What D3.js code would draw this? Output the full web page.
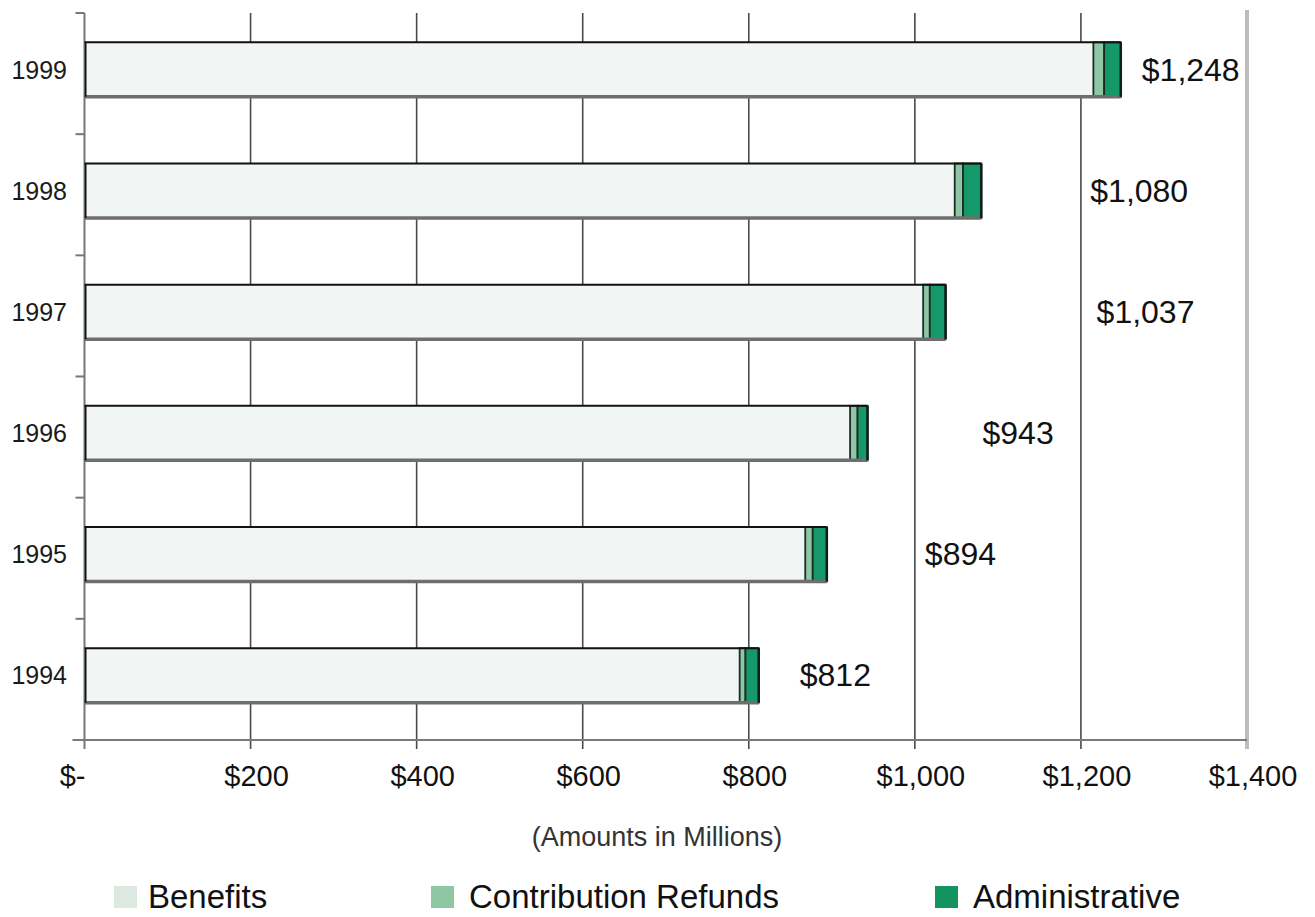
<!DOCTYPE html>
<html>
<head>
<meta charset="utf-8">
<script src="https://cdn.jsdelivr.net/npm/d3@7"></script>
<style>
  html, body { margin: 0; padding: 0; background: #fff; }
  svg { display: block; font-family: "Liberation Sans", Arial, Helvetica, sans-serif; }
</style>
</head>
<body>
<svg id="chart" width="1315" height="917"></svg>
<script>
// Expenses by fiscal year, in millions of dollars
const years = ["1999", "1998", "1997", "1996", "1995", "1994"];
const benefits = [1215, 1048, 1010, 922, 868, 789];
const contributionRefunds = [13, 10, 8, 9, 9, 7];
const administrative = [20, 22, 19, 12, 17, 16];
const totals = [1248, 1080, 1037, 943, 894, 812];

const seriesNames = ["Benefits", "Contribution Refunds", "Administrative"];
const xTickValues = [0, 200, 400, 600, 800, 1000, 1200, 1400];
const xTickLabels = ["$-", "$200", "$400", "$600", "$800", "$1,000", "$1,200", "$1,400"];
const axisTitle = "(Amounts in Millions)";

// Layout and styling
const colors = ["#f1f5f3", "#8fc6a5", "#15996a"];
const legendColors = ["#dce9e0", "#8ec7a2", "#12935f"];
const totalLabelOffsets = [21, 109, 151, 115, 98, 41];
const plot = { left: 84.5, right: 1247, top: 13, bottom: 740 };

const rows = years.map((year, i) => ({
  year,
  "Benefits": benefits[i],
  "Contribution Refunds": contributionRefunds[i],
  "Administrative": administrative[i],
  total: totals[i]
}));

const svg = d3.select("#chart");

const x = d3.scaleLinear().domain([0, 1400]).range([plot.left, plot.right]);
const y = d3.scaleBand()
  .domain(years)
  .range([plot.top, plot.bottom])
  .paddingInner(0.55)
  .paddingOuter(0.275);
const barShift = -4;

// Vertical gridlines (with a short tick below the axis)
const grid = svg.append("g");
grid.selectAll("line.grid")
  .data(xTickValues.filter(v => v > 0 && v < 1400))
  .join("line")
  .attr("x1", d => x(d)).attr("x2", d => x(d))
  .attr("y1", plot.top).attr("y2", plot.bottom + 9)
  .attr("stroke", "#4a4a4a").attr("stroke-width", 1.6);
// right-hand frame line
grid.append("line")
  .attr("x1", x(1400)).attr("x2", x(1400))
  .attr("y1", plot.top - 3).attr("y2", plot.bottom + 9)
  .attr("stroke", "#bdbdbd").attr("stroke-width", 4);

// Category axis: line plus ticks at band boundaries
const step = y.step();
const boundaries = d3.range(years.length + 1).map(i => plot.top + i * step);
grid.selectAll("line.ytick")
  .data(boundaries)
  .join("line")
  .attr("x1", plot.left - 9).attr("x2", plot.left)
  .attr("y1", d => d).attr("y2", d => d)
  .attr("stroke", "#777").attr("stroke-width", 2);
grid.append("line")
  .attr("x1", plot.left).attr("x2", plot.left)
  .attr("y1", plot.top).attr("y2", plot.bottom + 9)
  .attr("stroke", "#777").attr("stroke-width", 2);
// value axis baseline
grid.append("line")
  .attr("x1", plot.left - 12).attr("x2", x(1400))
  .attr("y1", plot.bottom).attr("y2", plot.bottom)
  .attr("stroke", "#7a7a7a").attr("stroke-width", 2.2);

// Stacked bars
const stack = d3.stack().keys(seriesNames);
const layers = stack(rows);
const barsG = svg.append("g");
layers.forEach((layer, li) => {
  barsG.append("g")
    .selectAll("rect")
    .data(layer)
    .join("rect")
    .attr("x", d => x(d[0]))
    .attr("y", d => y(d.data.year) + barShift)
    .attr("width", d => x(d[1]) - x(d[0]))
    .attr("height", y.bandwidth())
    .attr("fill", colors[li])
    .attr("stroke", li === 0 ? "none" : "#1b2e26")
    .attr("stroke-width", 1.8);
});

// Bar outlines: dark top/left/right, grey shadow along the bottom
const outlines = barsG.append("g").selectAll("g").data(rows).join("g");
outlines.append("line")
  .attr("x1", x(0)).attr("x2", d => x(d.total))
  .attr("y1", d => y(d.year) + barShift).attr("y2", d => y(d.year) + barShift)
  .attr("stroke", "#111").attr("stroke-width", 2);
outlines.append("line")
  .attr("x1", x(0)).attr("x2", d => x(d.total))
  .attr("y1", d => y(d.year) + barShift + y.bandwidth())
  .attr("y2", d => y(d.year) + barShift + y.bandwidth())
  .attr("stroke", "#6e6e6e").attr("stroke-width", 3.5);
outlines.append("line")
  .attr("x1", x(0) + 1).attr("x2", x(0) + 1)
  .attr("y1", d => y(d.year) + barShift)
  .attr("y2", d => y(d.year) + barShift + y.bandwidth())
  .attr("stroke", "#111").attr("stroke-width", 2);
outlines.append("line")
  .attr("x1", d => x(d.total)).attr("x2", d => x(d.total))
  .attr("y1", d => y(d.year) + barShift)
  .attr("y2", d => y(d.year) + barShift + y.bandwidth())
  .attr("stroke", "#0f1f18").attr("stroke-width", 2.5);

// Total labels
const fmt = d3.format("$,");
svg.append("g").selectAll("text")
  .data(rows)
  .join("text")
  .attr("x", (d, i) => x(d.total) + totalLabelOffsets[i])
  .attr("y", d => y(d.year) + barShift + y.bandwidth() / 2 + 11)
  .attr("font-size", 32)
  .attr("fill", "#111")
  .text(d => fmt(d.total));

// Year labels
svg.append("g").selectAll("text")
  .data(years)
  .join("text")
  .attr("x", 67)
  .attr("y", d => y(d) + barShift + y.bandwidth() / 2 + 9)
  .attr("text-anchor", "end")
  .attr("font-size", 25)
  .attr("fill", "#1a1a1a")
  .text(d => d);

// Value axis tick labels
svg.append("g").selectAll("text")
  .data(xTickValues)
  .join("text")
  .attr("x", d => d === 0 ? x(d) + 1 : x(d) + 6)
  .attr("y", 786)
  .attr("text-anchor", d => d === 0 ? "end" : "middle")
  .attr("font-size", 29)
  .attr("fill", "#111")
  .text((d, i) => xTickLabels[i]);

// Axis title
svg.append("text")
  .attr("x", 657).attr("y", 846)
  .attr("text-anchor", "middle")
  .attr("font-size", 27)
  .attr("fill", "#333")
  .text(axisTitle);

// Legend
const legendX = [114, 431, 935];
const legend = svg.append("g").selectAll("g")
  .data(seriesNames)
  .join("g")
  .attr("transform", (d, i) => `translate(${legendX[i]},0)`);
legend.append("rect")
  .attr("x", 0).attr("y", 886)
  .attr("width", 23).attr("height", 22)
  .attr("fill", (d, i) => legendColors[i]);
legend.append("text")
  .attr("x", (d, i) => i === 0 ? 34 : 38)
  .attr("y", 908)
  .attr("font-size", 33)
  .attr("fill", "#111")
  .text(d => d);
</script>
</body>
</html>
